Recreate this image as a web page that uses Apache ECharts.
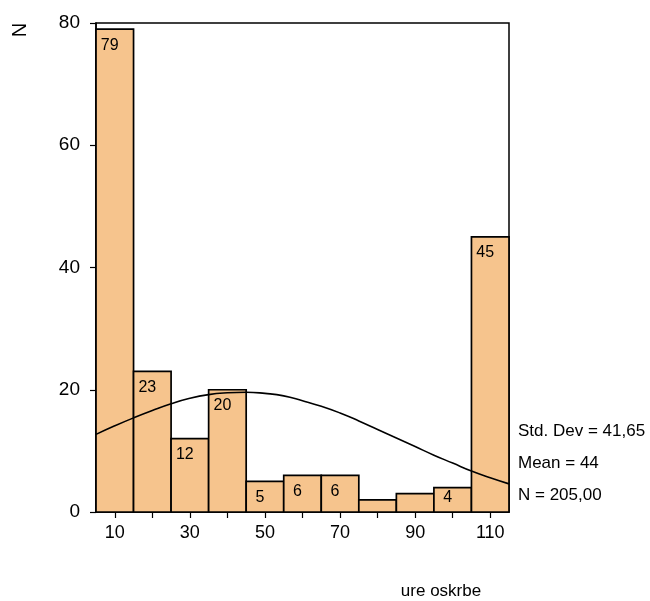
<!DOCTYPE html>
<html><head><meta charset="utf-8">
<script src="https://cdn.jsdelivr.net/npm/echarts@6/dist/echarts.min.js"></script>
<style>html,body{margin:0;padding:0;background:#fff}#c{width:650px;height:601px}</style>
</head><body><div id="c"></div>
<script>
// Histogram bins (centre of each 10-wide bin) and counts
const binCenters = [10, 20, 30, 40, 50, 60, 70, 80, 90, 100, 110];
const counts = [79, 23, 12, 20, 5, 6, 6, 2, 3, 4, 45];
const countLabels = ['79', '23', '12', '20', '5', '6', '6', '', '', '4', '45'];
const binWidth = 10;
// Normal curve
const curveX = [5, 10, 15, 20, 25, 30, 35, 40, 45, 50, 55, 60, 65, 70, 75, 80, 85, 90, 95, 100, 105, 110, 115];
const curveY = [12.7, 14.1, 15.4, 16.6, 17.7, 18.6, 19.2, 19.5, 19.6, 19.4, 19.0, 18.2, 17.3, 16.2, 14.9, 13.5, 12.1, 10.7, 9.3, 8.0, 6.7, 5.6, 4.6];
const xTicks = [10, 20, 30, 40, 50, 60, 70, 80, 90, 100, 110];
const xLabels = [10, 30, 50, 70, 90, 110];
const yTicks = [0, 20, 40, 60, 80];
const statsLines = ['Std. Dev = 41,65', 'Mean = 44', 'N = 205,00'];
const xName = 'ure oskrbe';
const yName = 'N';

const FONT = 'Liberation Sans, Arial, sans-serif';
const chart = echarts.init(document.getElementById('c'), null, {renderer: 'canvas'});

const barData = binCenters.map((c, i) => [c, counts[i], countLabels[i]]);
const lineData = curveX.map((x, i) => [x, curveY[i]]);

chart.setOption({
  animation: false,
  grid: {left: 96, right: 141, top: 23, bottom: 89, show: true, borderColor: '#000', borderWidth: 1.5, backgroundColor: 'transparent'},
  xAxis: {
    type: 'value', min: 5, max: 115,
    axisLine: {show: true, onZero: false, lineStyle: {color: '#000', width: 1.5}},
    axisTick: {show: true, length: 6, lineStyle: {color: '#000', width: 1.2}, customValues: xTicks},
    axisLabel: {show: true, color: '#000', fontSize: 18, fontFamily: FONT, margin: 12, customValues: xLabels},
    splitLine: {show: false}
  },
  yAxis: {
    type: 'value', min: 0, max: 80, interval: 20,
    axisLine: {show: true, lineStyle: {color: '#000', width: 1.5}},
    axisTick: {show: true, length: 6, lineStyle: {color: '#000', width: 1.2}},
    axisLabel: {color: '#000', fontSize: 19, fontFamily: FONT, margin: 16},
    splitLine: {show: false}
  },
  series: [
    {
      type: 'custom',
      data: barData,
      renderItem: function (params, api) {
        const c = api.value(0), v = api.value(1);
        const lab = countLabels[params.dataIndex];
        const p0 = api.coord([c - binWidth / 2, v]);
        const p1 = api.coord([c + binWidth / 2, 0]);
        const children = [{
          type: 'rect',
          shape: {x: p0[0], y: p0[1], width: p1[0] - p0[0], height: p1[1] - p0[1]},
          style: {fill: '#F6C48D', stroke: '#000', lineWidth: 1.7}
        }];
        if (lab) {
          const ty = Math.min(p0[1] + 8, p1[1] - 22);
          children.push({
            type: 'text',
            x: (p0[0] + p1[0]) / 2 - 5, y: ty,
            style: {text: lab, fill: '#000', font: '16px ' + FONT, textAlign: 'center', textVerticalAlign: 'top'},
            z2: 10
          });
        }
        return {type: 'group', children: children};
      },
      z: 2
    },
    {
      type: 'line', data: lineData, smooth: true, showSymbol: false,
      lineStyle: {color: '#000', width: 1.6}, z: 3
    }
  ],
  graphic: [
    {type: 'text', x: 20, y: 30, rotation: Math.PI / 2, style: {text: yName, font: '20px ' + FONT, fill: '#000', textAlign: 'center', textVerticalAlign: 'middle'}},
    {type: 'text', x: 441, y: 591, style: {text: xName, font: '17px ' + FONT, fill: '#000', textAlign: 'center', textVerticalAlign: 'middle'}},
    {type: 'text', x: 518, y: 431, style: {text: statsLines[0], font: '17px ' + FONT, fill: '#000', textVerticalAlign: 'middle'}},
    {type: 'text', x: 518, y: 463, style: {text: statsLines[1], font: '17px ' + FONT, fill: '#000', textVerticalAlign: 'middle'}},
    {type: 'text', x: 518, y: 495, style: {text: statsLines[2], font: '17px ' + FONT, fill: '#000', textVerticalAlign: 'middle'}}
  ]
});
</script></body></html>
